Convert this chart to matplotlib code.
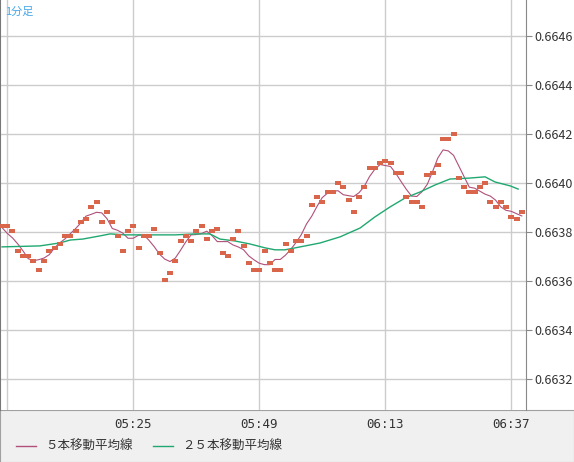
import numpy as np
import pandas as pd
import matplotlib.pyplot as plt
from matplotlib.lines import Line2D

plt.rcParams['font.family'] = ['Noto Sans CJK JP', 'DejaVu Sans']

# one price per minute, starting 05:00
prices = [
    0.663825, 0.663825, 0.663804, 0.663723, 0.663702, 0.663702, 0.663682, 0.663645, 0.663682, 0.663723,
    0.663735, 0.663751, 0.663784, 0.663784, 0.663804, 0.663841, 0.663853, 0.663902, 0.663923, 0.663841,
    0.663882, 0.663841, 0.663784, 0.663723, 0.663804, 0.663825, 0.663735, 0.663784, 0.663784, 0.663812,
    0.663714, 0.663604, 0.663633, 0.663682, 0.663763, 0.663784, 0.663763, 0.663804, 0.663825, 0.663771,
    0.663804, 0.663812, 0.663714, 0.663702, 0.663771, 0.663804, 0.663743, 0.663674, 0.663645, 0.663645,
    0.663723, 0.663674, 0.663645, 0.663645, 0.663751, 0.663723,
    0.663763, 0.663763, 0.663784, 0.663910, 0.663943, 0.663923, 0.663963, 0.663963, 0.664000, 0.663984,
    0.663931, 0.663882, 0.663943, 0.663984, 0.664061, 0.664061, 0.664082, 0.664090, 0.664082, 0.664041,
    0.664041, 0.663943, 0.663923, 0.663923, 0.663902, 0.664033, 0.664041, 0.664074, 0.664180, 0.664180,
    0.664200, 0.664020, 0.663984, 0.663963, 0.663963, 0.663984, 0.664000, 0.663923, 0.663902, 0.663923,
    0.663902, 0.663861, 0.663853, 0.663882,
]

# 25-period MA (minute index, price)
ma25_idx = [0, 7.2, 11, 13, 15.4, 18.7, 20.6, 23.4, 28.2, 33, 36.8, 39.6, 41.5, 44.4, 47.2, 50.1, 52,
            53.9, 56.8, 60.6, 64.4, 68.2, 71, 73.9, 76.8, 79.6, 82.5, 85.3, 89.1, 92, 93.9, 96.8, 98.3]
ma25_val = [0.663739, 0.663743, 0.663755, 0.663767, 0.663771, 0.663784, 0.663792, 0.663788, 0.663788,
            0.663788, 0.663792, 0.663792, 0.663771, 0.663763, 0.663751, 0.663735, 0.663727, 0.663727,
            0.663739, 0.663755, 0.663780, 0.663816, 0.663861, 0.663902, 0.663939, 0.663963, 0.663992,
            0.664016, 0.664020, 0.664025, 0.664004, 0.663988, 0.663975]

tick_pos = [1, 25, 49, 73, 97]
tick_labels = ['', '05:25', '05:49', '06:13', '06:37']
y_ticks = [0.6632, 0.6634, 0.6636, 0.6638, 0.6640, 0.6642, 0.6644, 0.6646]

idx = np.arange(len(prices))
ma5 = pd.Series(prices).rolling(5, center=True, min_periods=1).mean()

fig = plt.figure(figsize=(5.74, 4.62), dpi=100)
fig.patch.set_facecolor('white')
fig.add_artist(plt.Rectangle((0, 0), 1, 52 / 462, transform=fig.transFigure,
                             facecolor='#f0f0f0', edgecolor='#a0a0a0', lw=0.8, zorder=0))
ax = fig.add_axes([0, 52 / 462, 526 / 574, 410 / 462])
ax.set_facecolor('white')

ax.plot(idx, ma5, color='#b0507a', lw=0.8, zorder=3)
ax.plot(ma25_idx, ma25_val, color='#20a870', lw=1.0, zorder=3)
rect = [(-1, -0.6), (1, -0.6), (1, 0.6), (-1, 0.6), (-1, -0.6)]
ax.scatter(idx, prices, marker=rect, s=15, color='#d9654b', linewidths=0, zorder=4)

ax.set_xlim(-0.38, 99.8)
ax.set_ylim(0.663073, 0.664747)
ax.set_xticks(tick_pos)
ax.set_xticklabels(tick_labels, family='DejaVu Sans Mono')
ax.set_yticks(y_ticks)
ax.set_yticklabels([f'{v:.4f}' for v in y_ticks])
ax.yaxis.tick_right()
ax.tick_params(axis='y', length=4, color='#888888', labelsize=9, labelcolor='#333333', pad=2)
ax.tick_params(axis='x', length=0, labelsize=9, labelcolor='#333333', pad=6)
ax.grid(True, color='#cccccc', lw=1)
for s in ['top', 'bottom']:
    ax.spines[s].set_visible(False)
ax.spines['left'].set_color('#777777')
ax.spines['left'].set_linewidth(1.5)
ax.spines['right'].set_color('#888888')

ax.text(5 / 526, 1 - 12 / 410, '1分足', transform=ax.transAxes, color='#44a8e8',
        fontsize=8, va='center', ha='left')

# legend
y_leg = 1 - 446 / 462
fig.add_artist(Line2D([16 / 574, 36 / 574], [y_leg, y_leg], color='#b0507a', lw=1))
fig.text(45 / 574, y_leg, '５本移動平均線', fontsize=9, color='#333333', va='center')
fig.add_artist(Line2D([153 / 574, 173 / 574], [y_leg, y_leg], color='#20a870', lw=1))
fig.text(182 / 574, y_leg, '２５本移動平均線', fontsize=9, color='#333333', va='center')

fig.savefig('out.png', dpi=100)
